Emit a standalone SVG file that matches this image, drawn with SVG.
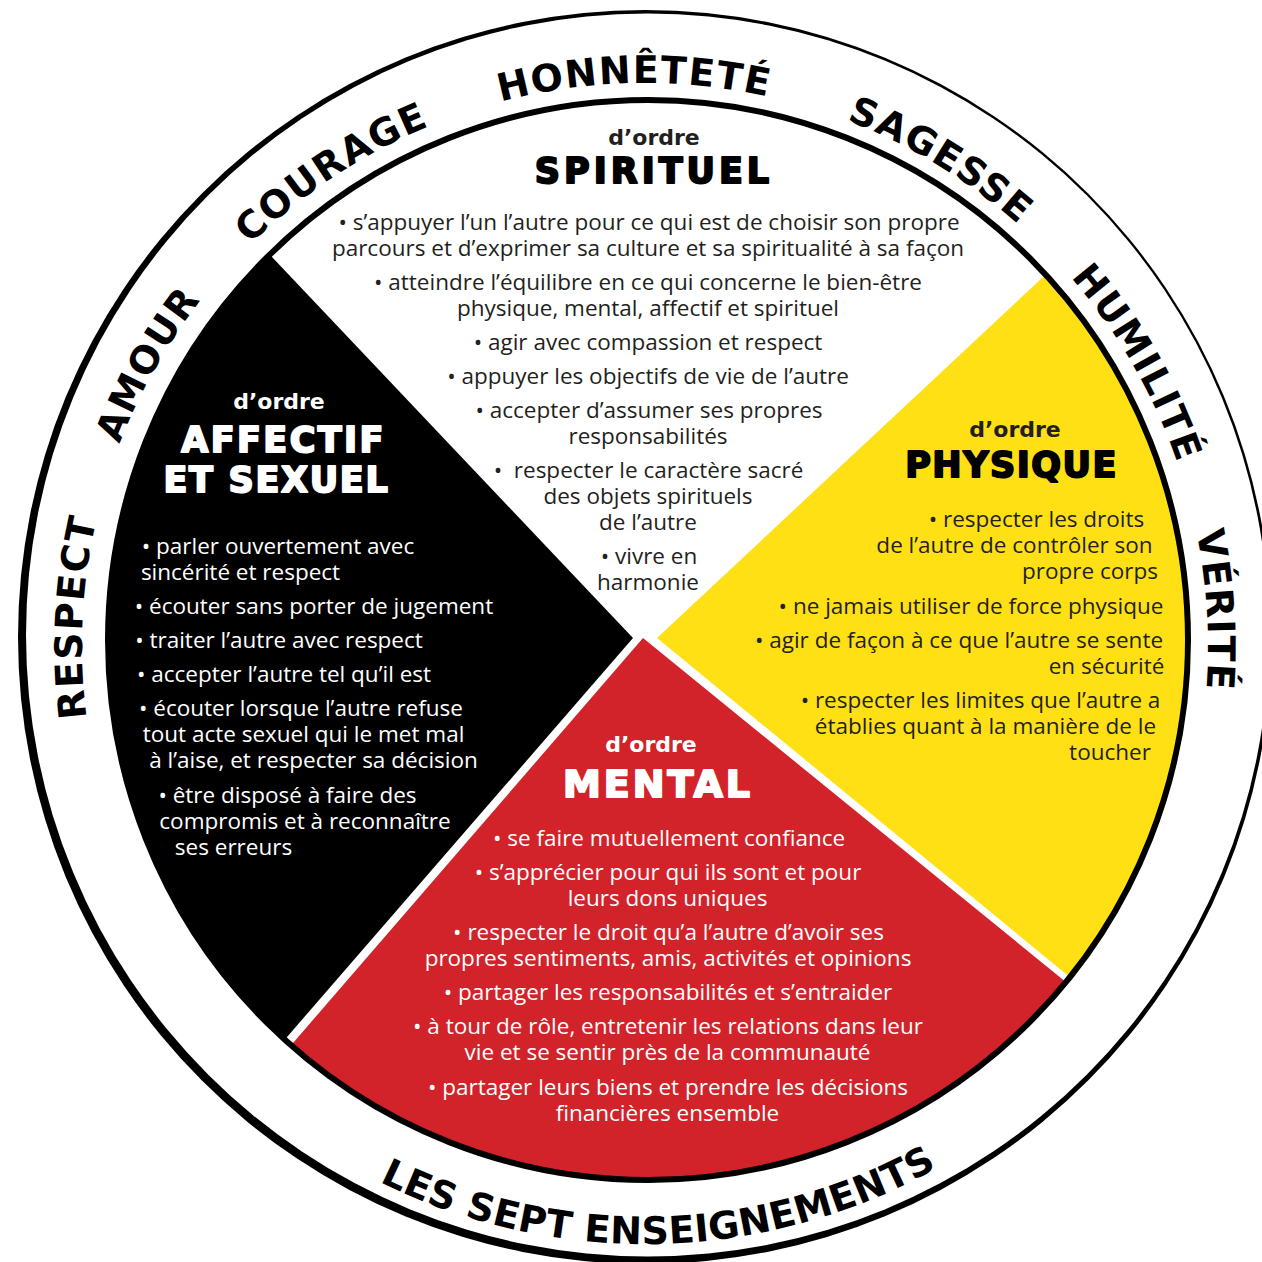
<svg xmlns="http://www.w3.org/2000/svg" width="1262" height="1262" viewBox="0 0 1262 1262">
<defs>
<style>
.ring{font-family:"DejaVu Sans",sans-serif;font-weight:bold;font-size:38px;letter-spacing:1.5px;fill:#000;text-anchor:middle}
.ord{font-family:"DejaVu Sans",sans-serif;font-weight:bold;font-size:22px;text-anchor:middle}
.head{font-family:"DejaVu Sans",sans-serif;font-weight:bold;font-size:35px;text-anchor:middle;stroke-width:2;stroke-linejoin:round}
.body{font-family:"Open Sans",sans-serif;font-size:22.5px;text-anchor:middle;white-space:pre}
.dk{fill:#231f20}
.dks{fill:#000;stroke:#000}
.lt{fill:#fff}
.lts{fill:#fff;stroke:#fff}
</style>
<clipPath id="disc"><circle cx="648" cy="640" r="540"/></clipPath>
<path id="ringPath" d="M645,1209 A563,563 0 1 1 645,83 A563,563 0 1 1 645,1209"/>
<path id="bottomPath" d="M47,646 A598,598 0 0 0 1243,646"/>
</defs>
<rect width="1262" height="1262" fill="#fff"/>
<g id="outer-ring">
<circle cx="645" cy="637" r="627" fill="#000"/>
<circle cx="647.5" cy="635" r="621.5" fill="#fff"/>
</g>
<g id="teachings">
<text class="ring"><textPath href="#ringPath" startOffset="25.8%">RESPECT</textPath></text>
<text class="ring"><textPath href="#ringPath" startOffset="33.2%">AMOUR</textPath></text>
<text class="ring"><textPath href="#ringPath" startOffset="40.7%">COURAGE</textPath></text>
<text class="ring"><textPath href="#ringPath" startOffset="49.7%">HONNÊTETÉ</textPath></text>
<text class="ring"><textPath href="#ringPath" startOffset="58.7%">SAGESSE</textPath></text>
<text class="ring"><textPath href="#ringPath" startOffset="66.7%">HUMILITÉ</textPath></text>
<text class="ring"><textPath href="#ringPath" startOffset="74%">VÉRITÉ</textPath></text>
<text class="ring" style="letter-spacing:0.3px"><textPath href="#bottomPath" startOffset="50.8%">LES SEPT ENSEIGNEMENTS</textPath></text>
</g>
<g id="wheel">
<circle cx="648" cy="640" r="540" fill="#fff"/>
<g clip-path="url(#disc)">
<polygon points="633,638 -89,-124 -400,640 -59,1436" fill="#000"/>
<polygon points="643,638 -57,1448 640,1800 1501,1336" fill="#d2232a"/>
<polygon points="657,638 1427,-82 1900,640 1497,1328" fill="#ffe014"/>
</g>
<circle cx="648" cy="640" r="540" fill="none" stroke="#000" stroke-width="6"/>
</g>
<g id="spirituel">
<text class="ord dk" x="654" y="145">d’ordre</text>
<text class="head dks" x="654" y="183" style="letter-spacing:4px">SPIRITUEL</text>
<text class="body dk" x="649" y="230">• s’appuyer l’un l’autre pour ce qui est de choisir son propre</text>
<text class="body dk" x="648" y="256">parcours et d’exprimer sa culture et sa spiritualité à sa façon</text>
<text class="body dk" x="648" y="290">• atteindre l’équilibre en ce qui concerne le bien-être</text>
<text class="body dk" x="648" y="316">physique, mental, affectif et spirituel</text>
<text class="body dk" x="648" y="350">• agir avec compassion et respect</text>
<text class="body dk" x="648" y="384">• appuyer les objectifs de vie de l’autre</text>
<text class="body dk" x="649" y="418">• accepter d’assumer ses propres</text>
<text class="body dk" x="648" y="444">responsabilités</text>
<text class="body dk" x="648.5" y="478">•  respecter le caractère sacré</text>
<text class="body dk" x="648" y="504">des objets spirituels</text>
<text class="body dk" x="648" y="530">de l’autre</text>
<text class="body dk" x="649" y="564">• vivre en</text>
<text class="body dk" x="648" y="590">harmonie</text>
</g>
<g id="affectif">
<text class="ord lt" x="279" y="409">d’ordre</text>
<text class="head lts" x="283.5" y="452" style="letter-spacing:2.4px">AFFECTIF</text>
<text class="head lts" x="276.5" y="492" style="letter-spacing:1.7px">ET SEXUEL</text>
<text class="body lt" x="278" y="554">• parler ouvertement avec</text>
<text class="body lt" x="240.5" y="580">sincérité et respect</text>
<text class="body lt" x="314" y="614">• écouter sans porter de jugement</text>
<text class="body lt" x="279" y="648">• traiter l’autre avec respect</text>
<text class="body lt" x="284" y="682">• accepter l’autre tel qu’il est</text>
<text class="body lt" x="301" y="716">• écouter lorsque l’autre refuse</text>
<text class="body lt" x="303.5" y="742">tout acte sexuel qui le met mal</text>
<text class="body lt" x="313.5" y="768">à l’aise, et respecter sa décision</text>
<text class="body lt" x="287.5" y="803">• être disposé à faire des</text>
<text class="body lt" x="305" y="829">compromis et à reconnaître</text>
<text class="body lt" x="233.5" y="855">ses erreurs</text>
</g>
<g id="physique">
<text class="ord dk" x="1015" y="437">d’ordre</text>
<text class="head dks" x="1011.5" y="477" style="letter-spacing:1.5px">PHYSIQUE</text>
<text class="body dk" x="1036.5" y="527">• respecter les droits</text>
<text class="body dk" x="1014.5" y="553">de l’autre de contrôler son</text>
<text class="body dk" x="1090" y="579">propre corps</text>
<text class="body dk" x="971" y="614">• ne jamais utiliser de force physique</text>
<text class="body dk" x="959" y="648">• agir de façon à ce que l’autre se sente</text>
<text class="body dk" x="1106.5" y="674">en sécurité</text>
<text class="body dk" x="980.5" y="708">• respecter les limites que l’autre a</text>
<text class="body dk" x="985.5" y="734">établies quant à la manière de le</text>
<text class="body dk" x="1110" y="760">toucher</text>
</g>
<g id="mental">
<text class="ord lt" x="651" y="752">d’ordre</text>
<text class="head lts" x="658" y="797" style="font-size:38px;letter-spacing:3px">MENTAL</text>
<text class="body lt" x="669" y="846">• se faire mutuellement confiance</text>
<text class="body lt" x="668" y="880">• s’apprécier pour qui ils sont et pour</text>
<text class="body lt" x="667.5" y="906">leurs dons uniques</text>
<text class="body lt" x="668.5" y="940">• respecter le droit qu’a l’autre d’avoir ses</text>
<text class="body lt" x="668" y="966">propres sentiments, amis, activités et opinions</text>
<text class="body lt" x="668" y="1000">• partager les responsabilités et s’entraider</text>
<text class="body lt" x="668" y="1034">• à tour de rôle, entretenir les relations dans leur</text>
<text class="body lt" x="667.5" y="1060">vie et se sentir près de la communauté</text>
<text class="body lt" x="668" y="1095">• partager leurs biens et prendre les décisions</text>
<text class="body lt" x="667.5" y="1121">financières ensemble</text>
</g>
</svg>
